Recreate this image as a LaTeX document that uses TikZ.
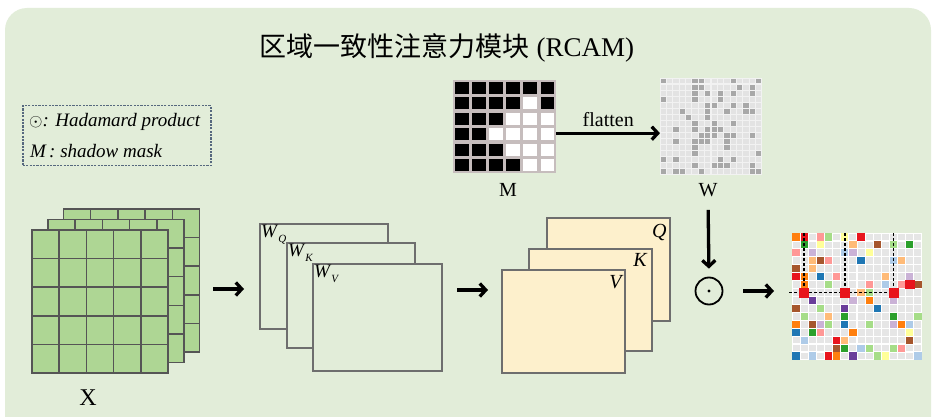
\documentclass[tikz,border=0pt]{standalone}
\usepackage{fontspec}
\usepackage{graphicx}
\setmainfont{Liberation Serif}
\newfontfamily\cjk{Noto Sans CJK SC}
\usetikzlibrary{arrows.meta}
\definecolor{bgc}{HTML}{E2EDD9}
\definecolor{legc}{HTML}{56687E}
\definecolor{boxc}{HTML}{6E6E6E}
\definecolor{xg}{HTML}{AED694}
\definecolor{xline}{HTML}{555555}
\definecolor{qc}{HTML}{FDF0CC}
\definecolor{mbg}{HTML}{C6BDBD}
\definecolor{wbg}{HTML}{F2F2F2}
\definecolor{wcell}{HTML}{E3E3E3}
\definecolor{wdark}{HTML}{A8A8A8}
\definecolor{acell}{HTML}{E6E6E6}
\definecolor{or}{HTML}{FF7F0E}
\definecolor{lor}{HTML}{FFBB78}
\definecolor{rd}{HTML}{E8141C}
\definecolor{pk}{HTML}{FF9896}
\definecolor{gn}{HTML}{2CA02C}
\definecolor{lgn}{HTML}{A6DD88}
\definecolor{bl}{HTML}{1F77B4}
\definecolor{lbl}{HTML}{AECBE8}
\definecolor{pu}{HTML}{6A3D9A}
\definecolor{lpu}{HTML}{CAB2D6}
\definecolor{br}{HTML}{A6562D}
\definecolor{ly}{HTML}{FFFF99}
\tikzset{
  arr/.style={line width=3.3pt,-{Straight Barb[length=6pt,width=13pt]}},
  wbox/.style={draw=boxc,line width=1.8pt,fill=bgc,anchor=north west,inner sep=0pt},
  qbox/.style={draw=boxc,line width=1.8pt,fill=qc,anchor=north west,inner sep=0pt},
  lab/.style={inner sep=0pt,font=\fontsize{20}{20}\selectfont},
  ilab/.style={inner sep=0pt,font=\fontsize{20}{20}\selectfont\itshape},
  legtxt/.style={inner sep=0pt,anchor=west,font=\fontsize{19}{19}\selectfont\itshape},
}
\newcommand{\Wsub}[1]{\textit{W}\raisebox{-0.55ex}{\fontsize{11}{11}\selectfont\textit{#1}}}
\begin{document}
\begin{tikzpicture}[x=1pt,y=-1pt]
\useasboundingbox (0,0) rectangle (932,417);
\fill[white] (0,0) rectangle (932,417);
\fill[bgc,rounded corners=22pt] (5,8) rectangle (931,445);

% title
\node[inner sep=0pt] (title) at (447,48) {\fontsize{27}{27}\selectfont\cjk 区域一致性注意力模块\rmfamily\ (RCAM)};

% legend
\node[draw=legc,line width=1.5pt,dash pattern=on 2.2pt off 1.2pt,minimum width=188pt,minimum height=60pt,anchor=north west,inner sep=0pt] (legend) at (22,105) {};
\node[legtxt] (leg1) at (29,122) {\upshape$\odot$\itshape: Hadamard product};
\node[legtxt] (leg2) at (30,151) {M\,: shadow mask};

% X stack
\foreach \dx/\dy in {31.5/-21,16/-10.5,0/0}{
  \draw[fill=xg,draw=xline,line width=1.5pt] (32+\dx,230+\dy) rectangle (168+\dx,373+\dy);
  \foreach \i in {1,...,4}{
    \draw[xline,line width=1.5pt] ({32+\dx+\i*27.2},230+\dy) -- ({32+\dx+\i*27.2},373+\dy);
    \draw[xline,line width=1.5pt] (32+\dx,{230+\dy+\i*28.6}) -- (168+\dx,{230+\dy+\i*28.6});
  }
}
\node[inner sep=0pt] (Xlab) at (88,398) {\fontsize{24}{24}\selectfont X};

% W boxes
\node[wbox,minimum width=128pt,minimum height=105pt] (wq) at (259,223) {};
\node[anchor=north west,inner sep=0pt,font=\fontsize{19}{19}\selectfont] (wql) at ([xshift=2pt,yshift=-2pt]wq.north west) {\Wsub{Q}};
\node[wbox,minimum width=128pt,minimum height=105pt] (wk) at (286,242) {};
\node[anchor=north west,inner sep=0pt,font=\fontsize{19}{19}\selectfont] (wkl) at ([xshift=2pt,yshift=-2pt]wk.north west) {\Wsub{K}};
\node[wbox,minimum width=129pt,minimum height=107pt] (wv) at (312,263) {};
\node[anchor=north west,inner sep=0pt,font=\fontsize{19}{19}\selectfont] (wvl) at ([xshift=2pt,yshift=-2pt]wv.north west) {\Wsub{V}};

% QKV boxes
\node[qbox,minimum width=123pt,minimum height=103pt] (qb) at (546,217) {};
\node[ilab,anchor=north east] (ql) at ([xshift=-4pt,yshift=-7pt]qb.north east) {Q};
\node[qbox,minimum width=123pt,minimum height=102pt] (kb) at (528,248) {};
\node[ilab,anchor=north east] (kl) at ([xshift=-6pt,yshift=-5pt]kb.north east) {K};
\node[qbox,minimum width=123pt,minimum height=103pt] (vb) at (501,269) {};
\node[ilab,anchor=north east] (vl) at ([xshift=-4pt,yshift=-6pt]vb.north east) {V};

% arrows between stacks
\coordinate (a1s) at (213,289); \coordinate (a1e) at (244,289);
\draw[arr] (a1s) -- (a1e);
\coordinate (a2s) at (457,290); \coordinate (a2e) at (488,290);
\draw[arr] (a2s) -- (a2e);

% M matrix
\node[fill=mbg,minimum width=103pt,minimum height=93pt,anchor=north west,inner sep=0pt] (Mmat) at (453,80) {};
\foreach \r in {0,...,5}{\foreach \c in {0,...,5}{
  \fill[black] ({453+\c*17.17+1.7},{80+\r*15.5+1.6}) rectangle ++(13.8,12.3);}}
\foreach \r/\c in {1/4,2/3,2/4,2/5,3/2,3/3,3/4,3/5,4/3,4/4,4/5,5/4,5/5}{
  \fill[white] ({453+\c*17.17+1.7},{80+\r*15.5+1.6}) rectangle ++(13.8,12.3);}
\node[lab] (Mlab) at (508,190) {M};

% W matrix
\node[fill=wbg,minimum width=102pt,minimum height=97pt,anchor=north west,inner sep=0pt] (Wmat) at (660,78) {};
\pgfmathsetseed{1234}
\foreach \r in {0,...,15}{\foreach \c in {0,...,15}{
  \pgfmathrandominteger{\rr}{1}{100}
  \ifnum\rr<27
    \fill[wdark] ({660+\c*6.375+0.6},{78+\r*6.06+0.6}) rectangle ++(5.2,4.9);
  \else
    \fill[wcell] ({660+\c*6.375+0.6},{78+\r*6.06+0.6}) rectangle ++(5.2,4.9);
  \fi}}
\node[lab] (Wlab) at (708,190) {W};

% flatten arrow
\draw[arr] ([yshift=-6.5pt]Mmat.east) -- node[above=5pt,inner sep=0pt,font=\fontsize{20}{20}\selectfont] (flat) {flatten} ([yshift=-6.5pt]Wmat.west);

% odot
\node[circle,draw,line width=1.8pt,minimum size=27pt,inner sep=0pt] (odot) at (709,291) {};
\fill (odot.center) circle (1.7pt);
\draw[arr,shorten <=13pt,shorten >=8pt] (Wlab.south) -- (odot.north);

% attention matrix
\node[fill=white,minimum width=130pt,minimum height=127pt,anchor=north west,inner sep=0pt] (attn) at (792,233) {};
\foreach \r in {0,...,15}{\foreach \c in {0,...,15}{
  \fill[acell] ({792+\c*8.125+0.6},{233+\r*7.9375+0.6}) rectangle ++(6.9,6.7);}}
\foreach \r/\c/\col in {0/0/or,0/1/rd,0/3/pk,0/4/lgn,0/6/ly,0/8/rd,
  1/1/gn,1/3/ly,1/7/lor,1/10/br,1/12/lgn,1/14/gn,
  2/0/pk,2/2/lpu,2/6/lbl,2/7/lpu,2/9/ly,
  3/2/lor,3/3/br,3/4/pk,3/8/bl,3/12/lbl,3/13/lor,
  4/0/br,4/2/lor,
  5/0/rd,5/1/or,5/3/bl,5/5/pk,5/11/lor,5/14/lpu,
  6/1/or,6/4/lgn,6/9/pk,6/11/lbl,6/13/pk,6/15/br,
  7/8/lor,7/9/lgn,
  8/2/pu,8/7/lpu,8/9/or,8/12/lpu,
  9/0/br,9/3/lgn,9/6/pu,9/10/bl,
  10/1/lgn,10/4/lor,10/6/gn,10/12/gn,10/15/lgn,
  11/0/or,11/2/br,11/3/lpu,11/4/lgn,11/6/bl,11/9/lgn,11/12/lpu,11/13/or,11/14/lbl,
  12/0/bl,12/2/gn,12/3/pk,12/7/or,12/14/ly,
  13/1/lbl,13/5/rd,13/6/lor,13/14/br,
  14/5/br,14/6/gn,14/8/lbl,14/9/lgn,14/12/lgn,14/13/pk,
  15/0/bl,15/2/lbl,15/4/rd,15/5/or,15/7/pu,15/10/lgn,15/11/ly,15/15/lbl}{
  \fill[\col] ({792+\c*8.125+0.4},{233+\r*7.9375+0.4}) rectangle ++(7.3,7.1);}
\draw[white,line width=1.6pt] (792,296.5) -- (922,296.5);
% big red in row 6
\fill[rd] ({792+14*8.125-0.8},{233+6*7.9375-0.8}) rectangle ++(9.7,9.5);
% dashed lines
\foreach \c in {1,6,12}{
  \draw[black,line width=1.4pt,dash pattern=on 3pt off 2pt] ({792+(\c+0.5)*8.125},233) -- ({792+(\c+0.5)*8.125},292.5);}
\draw[black,line width=1.4pt,dash pattern=on 3pt off 2pt] (789,292.5) -- ({792+12.5*8.125},292.5);
\foreach \c in {1,6,12}{
  \fill[rd] ({792+(\c+0.5)*8.125-5},287.5) rectangle ++(10,10);}

\draw[arr,shorten <=20pt,shorten >=18pt] (odot.east) -- (attn.west |- odot.east);
\end{tikzpicture}
\end{document}
